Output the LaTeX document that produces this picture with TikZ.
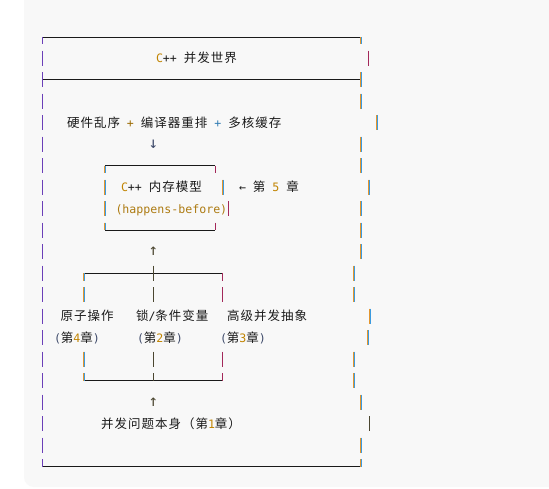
\documentclass[tikz,border=0pt]{standalone}
\usepackage{fontspec}
\newfontfamily\cjkf{Noto Sans CJK SC}[LetterSpace=8.0]
\newfontfamily\monof{DejaVu Sans Mono}[Scale=0.928]
\definecolor{bgC}{HTML}{F8F8F8}
\definecolor{ink}{HTML}{1A1A1A}
\definecolor{cO}{HTML}{E3962F}
\definecolor{cB}{HTML}{3C9BE0}
\definecolor{cP}{HTML}{6B3FB8}
\definecolor{cR}{HTML}{A3285A}
\definecolor{cD}{HTML}{4B4630}
\definecolor{numC}{HTML}{C18401}
\definecolor{goldC}{HTML}{AD7B12}
\definecolor{parC}{HTML}{3E4A6A}
\newcommand\M[1]{{\monof #1}}
\newcommand\Num[1]{{\monof\color{numC}#1}}
% bar pieces: x, y1, y2
\newcommand\bOB[3]{\draw[cO,line width=0.8pt] ({#1-0.4},{#2}) -- ({#1-0.4},{#3});
  \draw[cB,line width=0.6pt] ({#1+0.3},{#2}) -- ({#1+0.3},{#3});}
\newcommand\bBO[3]{\draw[cO,line width=0.5pt] ({#1-0.5},{#2}) -- ({#1-0.5},{#3});
  \draw[cB,line width=0.8pt] ({#1+0.15},{#2}) -- ({#1+0.15},{#3});}
\newcommand\bC[4]{\draw[#1,line width=1pt] ({#2},{#3}) -- ({#2},{#4});}
% full row segments: x, row
\newcommand\rOB[2]{\bOB{#1}{36.5+21.5*(#2)-7.5}{36.5+21.5*(#2)+7.5}}
\newcommand\rBO[2]{\bBO{#1}{36.5+21.5*(#2)-7.5}{36.5+21.5*(#2)+7.5}}
\newcommand\rC[3]{\bC{#1}{#2}{36.5+21.5*(#3)-7.5}{36.5+21.5*(#3)+7.5}}
\begin{document}
\begin{tikzpicture}[x=1pt,y=-1pt,
  txt/.style={anchor=base west,inner sep=0pt,outer sep=0pt,
    font=\cjkf\fontsize{12.5}{15}\selectfont,text=ink},
  arr/.style={anchor=center,inner sep=0pt,outer sep=0pt,
    font=\monof\fontsize{17}{18}\selectfont},
  hl/.style={draw=ink,line width=1pt}]
\useasboundingbox (0,0) rectangle (549,488);
\fill[white] (0,0) rectangle (549,488);
\fill[bgC,rounded corners=10pt] (24,-20) rectangle (600,487);

% outer frame horizontals
\coordinate (tl) at (42,37);   \coordinate (tr) at (361,37);
\coordinate (ml) at (42,79.5); \coordinate (mr) at (361,79.5);
\coordinate (bl) at (42,466.5);\coordinate (br) at (361,466.5);
\draw[hl] (tl) -- (tr);
\draw[hl] (ml) -- (mr);
\draw[hl] (bl) -- (br);

% left bar (purple)
\bC{cP}{42}{37}{44}
\foreach \r in {1,...,19}{\rC{cP}{42}{\r}}
\bC{cP}{42}{459}{466.5}

% right bar
\bOB{361}{37}{44}
\rC{cR}{368}{1}
\rOB{361}{2}
\rOB{361}{3}
\rOB{377}{4}
\rOB{361}{5}
\rOB{361}{6}
\rOB{369}{7}
\rOB{361}{8}
\rOB{361}{9}
\rOB{361}{10}
\rBO{354}{11}
\rBO{354}{12}
\rBO{370}{13}
\rOB{368}{14}
\rBO{354}{15}
\rBO{354}{16}
\rOB{361}{17}
\rC{cD}{369.5}{18}
\rOB{361}{19}
\bOB{361}{459}{466.5}

% inner box
\coordinate (ibtl) at (105,165.5); \coordinate (ibtr) at (215,165.5);
\coordinate (ibbl) at (105,230);   \coordinate (ibbr) at (215,230);
\draw[hl] (ibtl) -- (ibtr);
\draw[hl] (ibbl) -- (ibbr);
\bOB{105}{165.5}{173}
\bC{cR}{215}{165.5}{173}
\rOB{105}{7}
\rOB{223}{7}
\rOB{105}{8}
\rC{cR}{228.5}{8}
\bOB{105}{222.5}{230}
\bC{cR}{215}{222.5}{230}

% T-bars
\coordinate (t1l) at (84,273);    \coordinate (t1r) at (222.5,273);
\coordinate (t2l) at (84,380.5);  \coordinate (t2r) at (222.5,380.5);
\draw[hl] (t1l) -- (t1r);
\draw[hl] (t2l) -- (t2r);
\bOB{84}{273}{280.5}
\rC{cD}{153}{11}
\bC{cR}{222.5}{273}{280.5}
\rOB{84}{12}
\rC{cD}{153}{12}
\rC{cR}{222.5}{12}
\rOB{84}{15}
\rC{cD}{153}{15}
\rC{cR}{222.5}{15}
\bOB{84}{373}{380.5}
\bC{cD}{153}{373}{380.5}
\bC{cR}{222.5}{373}{380.5}

% arrows (glyphs)
\node[arr,text=parC] (a1) at (153.3,144.5) {↓};
\node[arr,text=cD] (a2) at (153.3,251.5) {↑};
\node[arr,text=cD] (a3) at (153.3,402.5) {↑};

% texts
\node[txt] (title) at (156,62.5) {\M{{\color{numC}C}++ }并发世界};
\node[txt] (hw) at (67,127) {硬件乱序\M{ {\color{numC!80!black}+} }编译器重排\M{ {\color{cB!80!black}+} }多核缓存};
\node[txt] (cmm) at (121,191.5) {\M{{\color{numC}C}++ }内存模型};
\node[txt] (ch5) at (239,191.5) {\M{← }第\M{ }\Num{5}\M{ }章};
\node[txt,text=goldC] (hb) at (115.5,213) {\M{(happens-before)}};
\node[txt] (atom) at (60.5,320.5) {原子操作};
\node[txt] (lock) at (136,320.5) {锁\M{/}条件变量};
\node[txt] (high) at (227,320.5) {高级并发抽象};
\node[txt] (c4) at (54,342) {\M{\color{parC}(}第\Num{4}章\M{\color{parC})}};
\node[txt] (c2) at (137,342) {\M{\color{parC}(}第\Num{2}章\M{\color{parC})}};
\node[txt] (c3) at (220,342) {\M{\color{parC}(}第\Num{3}章\M{\color{parC})}};
\node[txt] (root) at (101,428) {并发问题本身（第\Num{1}章）};
\end{tikzpicture}
\end{document}
